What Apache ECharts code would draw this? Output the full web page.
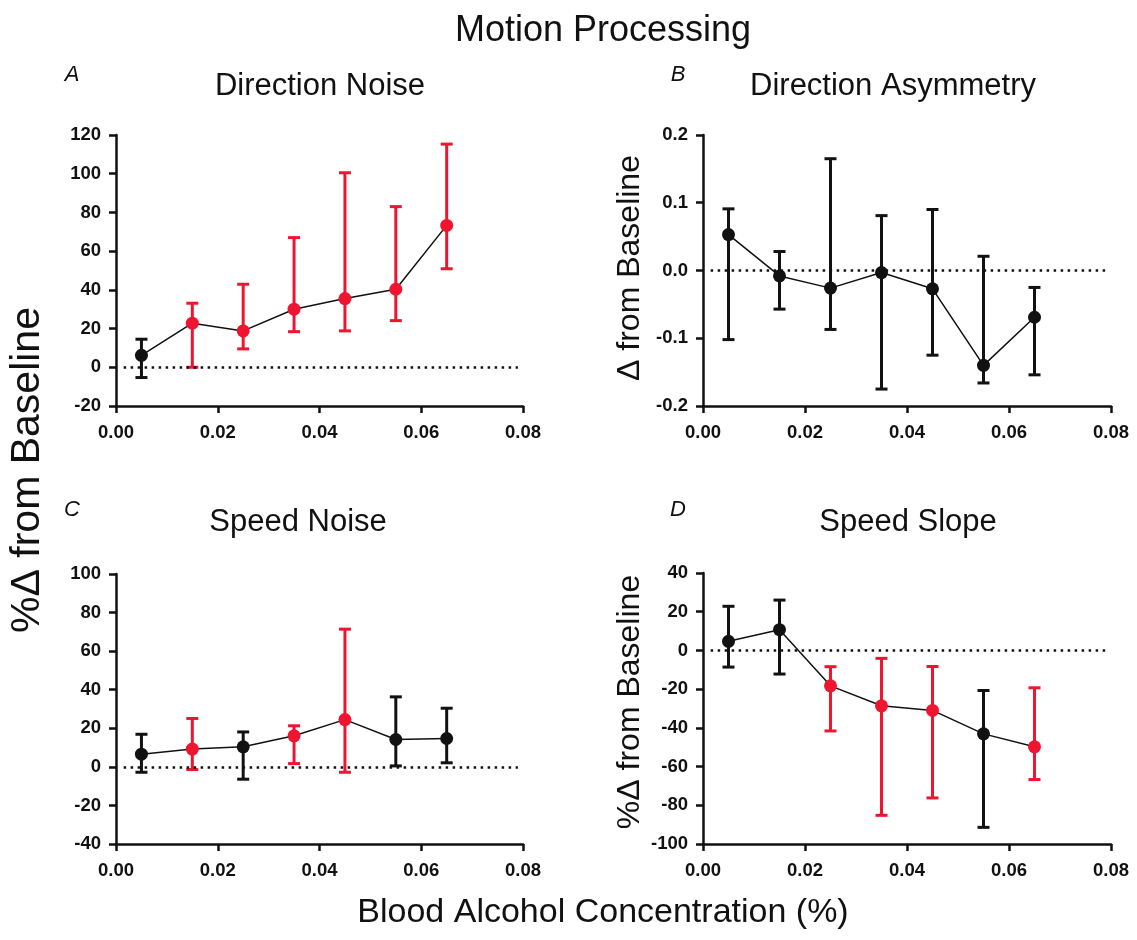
<!DOCTYPE html>
<html>
<head>
<meta charset="utf-8">
<script src="https://cdn.jsdelivr.net/npm/echarts@6/dist/echarts.min.js"></script>
<style>
  html, body { margin: 0; padding: 0; background: #fff; }
  #main { width: 1137px; height: 940px; }
</style>
</head>
<body>
<div id="main"></div>
<script>
// blood alcohol concentration bins (x)
var bac = [0.005, 0.015, 0.025, 0.035, 0.045, 0.055, 0.065];

// A - direction noise (%)
var dirNoiseMean = [6.2, 22.8, 18.8, 30.0, 35.5, 40.3, 73.3];
var dirNoiseLow  = [-5.3, 0, 9.5, 18.4, 18.8, 24.1, 50.9];
var dirNoiseHigh = [14.5, 33.1, 42.9, 67.0, 100.5, 83.0, 115.3];
var dirNoiseSig  = [0, 1, 1, 1, 1, 1, 1];

// B - direction asymmetry
var dirAsymMean = [0.053, -0.008, -0.026, -0.003, -0.027, -0.140, -0.069];
var dirAsymLow  = [-0.102, -0.057, -0.087, -0.175, -0.125, -0.166, -0.154];
var dirAsymHigh = [0.091, 0.028, 0.165, 0.081, 0.090, 0.021, -0.025];
var dirAsymSig  = [0, 0, 0, 0, 0, 0, 0];

// C - speed noise (%)
var spdNoiseMean = [6.6, 9.2, 10.4, 16.1, 24.5, 14.2, 14.7];
var spdNoiseLow  = [-2.8, -1.4, -6.4, 1.7, -2.8, 0.5, 2.1];
var spdNoiseHigh = [16.9, 25.1, 18.1, 21.3, 71.4, 36.3, 30.4];
var spdNoiseSig  = [0, 1, 0, 1, 1, 0, 0];

// D - speed slope (%)
var spdSlopeMean = [4.7, 10.7, -18.3, -28.6, -31.0, -43.1, -49.8];
var spdSlopeLow  = [-8.6, -12.2, -41.6, -85.2, -76.2, -91.4, -66.7];
var spdSlopeHigh = [22.8, 26.0, -8.4, -4.1, -8.3, -20.7, -19.3];
var spdSlopeSig  = [0, 0, 1, 1, 1, 0, 1];

var RED = "#ef1530";
var BLACK = "#111111";
var FONT = "'Liberation Sans', Arial, sans-serif";

var panels = [
  { mean: dirNoiseMean, low: dirNoiseLow, high: dirNoiseHigh, sig: dirNoiseSig,
    grid: { left: 116, top: 135, width: 407, height: 271 }, min: -20, max: 120, interval: 20, dec: 0 },
  { mean: dirAsymMean, low: dirAsymLow, high: dirAsymHigh, sig: dirAsymSig,
    grid: { left: 703, top: 135, width: 408, height: 271 }, min: -0.2, max: 0.2, interval: 0.1, dec: 1 },
  { mean: spdNoiseMean, low: spdNoiseLow, high: spdNoiseHigh, sig: spdNoiseSig,
    grid: { left: 116, top: 574, width: 407, height: 270 }, min: -40, max: 100, interval: 20, dec: 0 },
  { mean: spdSlopeMean, low: spdSlopeLow, high: spdSlopeHigh, sig: spdSlopeSig,
    grid: { left: 703, top: 573, width: 408, height: 271 }, min: -100, max: 40, interval: 20, dec: 0 }
];

var grids = [], xAxes = [], yAxes = [], series = [];

panels.forEach(function (p, i) {
  grids.push(p.grid);
  xAxes.push({
    type: "value", gridIndex: i, min: 0, max: 0.08, interval: 0.02,
    axisLine: { onZero: false, lineStyle: { color: BLACK, width: 2.5 } },
    axisTick: { show: true, length: 7, lineStyle: { color: BLACK, width: 2.5 } },
    axisLabel: { margin: 17, color: BLACK, fontSize: 18.5, fontWeight: "bold", fontFamily: FONT,
      formatter: function (v) { return v.toFixed(2); } },
    splitLine: { show: false }
  });
  yAxes.push({
    type: "value", gridIndex: i, min: p.min, max: p.max, interval: p.interval,
    axisLine: { show: true, onZero: false, lineStyle: { color: BLACK, width: 2.5 } },
    axisTick: { show: true, length: 7, lineStyle: { color: BLACK, width: 2.5 } },
    axisLabel: { margin: 15, color: BLACK, fontSize: 18.5, fontWeight: "bold", fontFamily: FONT,
      formatter: function (v) { return v.toFixed(p.dec); } },
    splitLine: { show: false }
  });

  // error bars
  var bars = bac.map(function (x, k) { return [x, p.low[k], p.high[k], p.sig[k]]; });
  series.push({
    type: "custom", xAxisIndex: i, yAxisIndex: i, z: 2,
    data: bars,
    renderItem: function (params, api) {
      var x = api.value(0);
      var top = api.coord([x, api.value(2)]);
      var bot = api.coord([x, api.value(1)]);
      var c = api.value(3) ? RED : BLACK;
      var cap = 6;
      var st = { stroke: c, lineWidth: 3 };
      return {
        type: "group",
        children: [
          { type: "line", shape: { x1: top[0], y1: top[1], x2: bot[0], y2: bot[1] }, style: st },
          { type: "line", shape: { x1: top[0] - cap, y1: top[1], x2: top[0] + cap, y2: top[1] }, style: st },
          { type: "line", shape: { x1: bot[0] - cap, y1: bot[1], x2: bot[0] + cap, y2: bot[1] }, style: st }
        ]
      };
    }
  });

  // mean line + dots
  series.push({
    type: "line", xAxisIndex: i, yAxisIndex: i, z: 3,
    symbol: "circle", symbolSize: 13,
    lineStyle: { color: BLACK, width: 1.5 },
    data: bac.map(function (x, k) {
      return { value: [x, p.mean[k]], itemStyle: { color: p.sig[k] ? RED : BLACK } };
    }),
    markLine: {
      silent: true, symbol: "none", label: { show: false },
      lineStyle: { color: BLACK, type: [2.5, 4.5], width: 2.5 },
      data: [[{ coord: [0.0015, 0] }, { coord: [0.079, 0] }]]
    }
  });
});

function txt(text, x, y, size, opts) {
  opts = opts || {};
  return {
    type: "text", x: x, y: y, rotation: opts.rot || 0,
    style: {
      text: text, fill: BLACK, textAlign: "center", textVerticalAlign: "middle",
      font: (opts.italic ? "italic " : "") + size + "px " + FONT
    }
  };
}

var myChart = echarts.init(document.getElementById("main"));
var option = {
  backgroundColor: "#ffffff",
  animation: false,
  grid: grids,
  xAxis: xAxes,
  yAxis: yAxes,
  series: series,
  graphic: [
    txt("Motion Processing", 603, 31, 36),
    txt("A", 72, 75, 22, { italic: true }),
    txt("B", 678, 75, 22, { italic: true }),
    txt("C", 72, 510, 22, { italic: true }),
    txt("D", 678, 510, 22, { italic: true }),
    txt("Direction Noise", 320, 86, 31),
    txt("Direction Asymmetry", 893, 86, 31),
    txt("Speed Noise", 298, 522, 31),
    txt("Speed Slope", 908, 522, 31),
    txt("%\u0394 from Baseline", 28, 470, 41, { rot: Math.PI / 2 }),
    txt("\u0394 from Baseline", 630, 268, 32, { rot: Math.PI / 2 }),
    txt("%\u0394 from Baseline", 630, 702, 32, { rot: Math.PI / 2 }),
    txt("Blood Alcohol Concentration (%)", 603, 913, 34)
  ]
};
myChart.setOption(option);
</script>
</body>
</html>
